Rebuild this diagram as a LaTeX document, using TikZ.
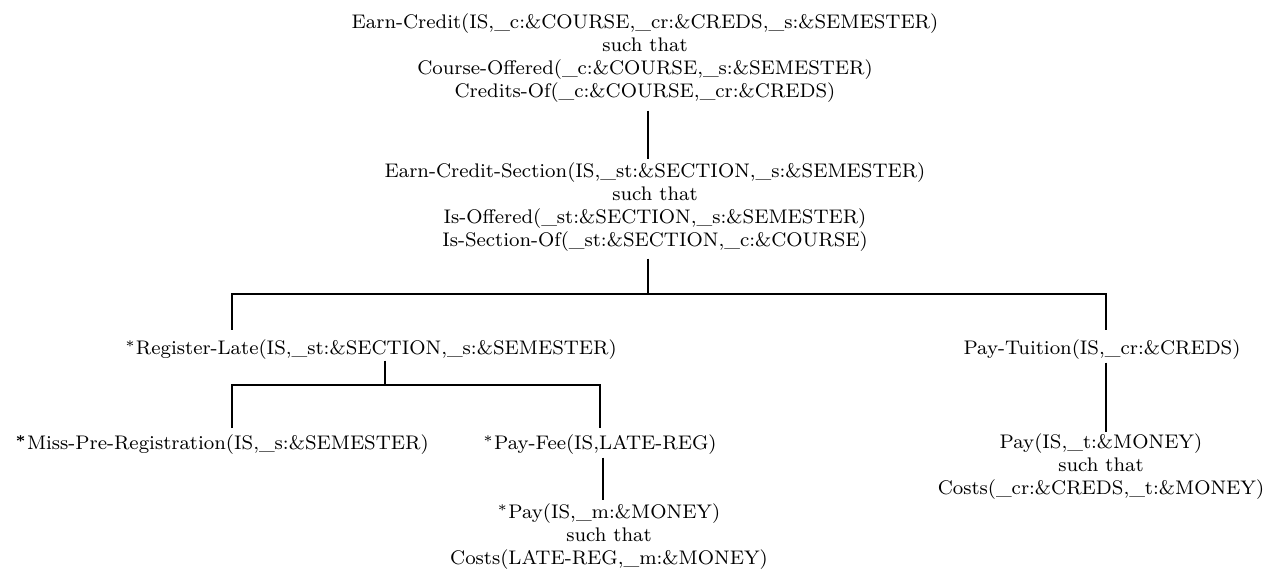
\documentclass[tikz,border=0pt]{standalone}
\begin{document}
\begin{tikzpicture}[x=1pt,y=1pt,
  txt/.style={align=center, inner sep=0pt, anchor=north, scale=2.46,
    font={\fontsize{8}{9.35}\selectfont}},
  link/.style={line width=2pt}]
\useasboundingbox (0,0) rectangle (1267,-577);

% goal nodes
\node[txt] (ec) at (645,-13) {Earn-Credit(IS,\_c:\&COURSE,\_cr:\&CREDS,\_s:\&SEMESTER)\\such that\\Course-Offered(\_c:\&COURSE,\_s:\&SEMESTER)\\Credits-Of(\_c:\&COURSE,\_cr:\&CREDS)};
\node[txt] (ecs) at (655,-162) {Earn-Credit-Section(IS,\_st:\&SECTION,\_s:\&SEMESTER)\\such that\\Is-Offered(\_st:\&SECTION,\_s:\&SEMESTER)\\Is-Section-Of(\_st:\&SECTION,\_c:\&COURSE)};
\node[txt] (rl) at (371,-339) {$^*$Register-Late(IS,\_st:\&SECTION,\_s:\&SEMESTER)};
\node[txt] (pt) at (1102,-339) {Pay-Tuition(IS,\_cr:\&CREDS)};
\node[txt] (mp) at (222,-434) {{\boldmath$^*$}Miss-Pre-Registration(IS,\_s:\&SEMESTER)};
\node[txt] (pf) at (600,-434) {$^*$Pay-Fee(IS,LATE-REG)};
\node[txt] (pm) at (609,-503) {$^*$Pay(IS,\_m:\&MONEY)\\such that\\Costs(LATE-REG,\_m:\&MONEY)};
\node[txt] (ptm) at (1101,-433) {Pay(IS,\_t:\&MONEY)\\such that\\Costs(\_cr:\&CREDS,\_t:\&MONEY)};

% junction points of the tree
\coordinate (b0) at (648,-294);
\coordinate (b0l) at (232,-294);
\coordinate (b0r) at (1106,-294);
\coordinate (b1) at (385,-385);
\coordinate (b1l) at (232,-385);
\coordinate (b1r) at (600,-385);
\coordinate (b2) at (603,0);

% connectors
\draw[link] ([yshift=-8pt]ec.south -| b0) -- ([yshift=3pt]ecs.north -| b0);
\draw[link] ([yshift=-7pt]ecs.south -| b0) -- (b0);
\draw[link] ([yshift=9pt]rl.north -| b0l) -- (b0l) -- (b0r) -- ([yshift=9pt]pt.north -| b0r);
\draw[link] ([yshift=-1pt]rl.south -| b1) -- (b1);
\draw[link] ([yshift=6pt]mp.north -| b1l) -- (b1l) -- (b1r) -- ([yshift=6pt]pf.north -| b1r);
\draw[link] ([yshift=-3pt]pf.south -| b2) -- ([yshift=3pt]pm.north -| b2);
\draw[link] ([yshift=-3pt]pt.south -| b0r) -- ([yshift=1pt]ptm.north -| b0r);
\end{tikzpicture}
\end{document}
